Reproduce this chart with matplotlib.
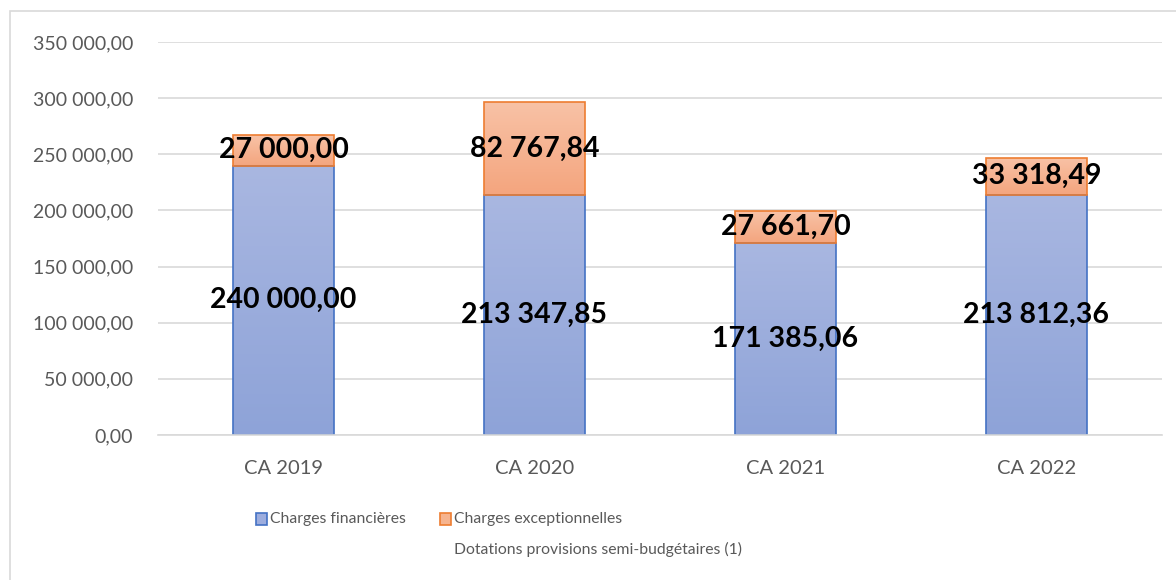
import numpy as np
import matplotlib
matplotlib.use('Agg')
import matplotlib.pyplot as plt
from matplotlib.patches import Rectangle
from matplotlib.ticker import FuncFormatter

plt.rcParams['font.family'] = ['Lato', 'DejaVu Sans']

# donnees
categories = ['CA 2019', 'CA 2020', 'CA 2021', 'CA 2022']
charges_fin = [240000.00, 213347.85, 171385.06, 213812.36]
charges_exc = [27000.00, 82767.84, 27661.70, 33318.49]
label_fin = 'Charges financières'
label_exc = 'Charges exceptionnelles\nDotations provisions semi-budgétaires (1)'

gris = '#595959'
bleu_bord, orange_bord = '#4472c4', '#ed7d31'


def fr(v, pos=None):
    s = '{:,.2f}'.format(v)
    return s.replace(',', ' ').replace('.', ',')


fig = plt.figure(figsize=(11.76, 5.8), dpi=100)
ax = fig.add_axes([0.1344, 0.25, 0.8536, 0.6776])

# cadre du graphique
fig.add_artist(Rectangle((10 / 1176, -0.01), 1.0, 1 - 11 / 580 + 0.01,
                         transform=fig.transFigure, fill=False,
                         edgecolor='#d9d9d9', linewidth=1.2))

x = np.arange(len(categories))
b1 = ax.bar(x, charges_fin, 0.4, color='#9dadde', edgecolor=bleu_bord,
            linewidth=1.2, zorder=3)
b2 = ax.bar(x, charges_exc, 0.4, bottom=charges_fin, color='#f6b48f',
            edgecolor=orange_bord, linewidth=1.2, zorder=3)

# degrade comme dans Excel
grad = np.linspace(0, 1, 100).reshape(-1, 1)
def degrade(bars, haut, bas):
    haut = np.array(matplotlib.colors.to_rgb(haut))
    bas = np.array(matplotlib.colors.to_rgb(bas))
    img = bas + (haut - bas) * grad[:, :, None].repeat(1, axis=1)
    for b in bars:
        x0, y0 = b.get_x(), b.get_y()
        im = ax.imshow(img, extent=[x0, x0 + b.get_width(), y0, y0 + b.get_height()],
                       origin='lower', aspect='auto', zorder=3.5)
        im.set_clip_path(b)
        b.set_facecolor('none')
        b.set_zorder(4)

degrade(b1, '#a9b7e1', '#8ea3d8')
degrade(b2, '#f8c2a6', '#f4a57e')

for i in range(len(categories)):
    ax.text(x[i], charges_fin[i] / 2, fr(charges_fin[i]), ha='center', va='center',
            fontsize=20.5, fontweight='bold', color='black', zorder=6)
    ax.text(x[i], charges_fin[i] + charges_exc[i] / 2, fr(charges_exc[i]), ha='center',
            va='center', fontsize=20.5, fontweight='bold', color='black', zorder=6)

ax.set_xlim(-0.5, len(categories) - 0.5)
ax.set_ylim(0, 350000)
ax.set_yticks(np.arange(0, 350001, 50000))
ax.yaxis.set_major_formatter(FuncFormatter(fr))
ax.set_xticks(x)
ax.set_xticklabels(categories)
ax.tick_params(length=0, labelcolor=gris)
ax.tick_params(axis='y', pad=18, labelsize=14)
ax.tick_params(axis='x', pad=18, labelsize=14.5)
ax.grid(axis='y', color='#d9d9d9', linewidth=1.2, zorder=0)
for s in ['top', 'right', 'left']:
    ax.spines[s].set_visible(False)
ax.spines['bottom'].set_color('#d9d9d9')
ax.spines['bottom'].set_linewidth(1.2)
ax.spines['bottom'].set_zorder(5)

# legende
def carre(xp, yp, fc, ec):
    fig.add_artist(Rectangle((xp / 1176, 1 - (yp + 6) / 580), 11 / 1176, 12 / 580,
                             transform=fig.transFigure, facecolor=fc, edgecolor=ec,
                             linewidth=1.2))

carre(256, 519, '#9dadde', bleu_bord)
fig.text(270 / 1176, 1 - 519 / 580, label_fin, fontsize=11.3, color=gris, va='center')
carre(440, 519, '#f6b48f', orange_bord)
fig.text(454 / 1176, 1 - 519 / 580, label_exc.split('\n')[0], fontsize=11.3, color=gris,
         va='center')
fig.text(454 / 1176, 1 - 549 / 580, label_exc.split('\n')[1], fontsize=11.3, color=gris,
         va='center')

fig.savefig('out.png', dpi=100)
